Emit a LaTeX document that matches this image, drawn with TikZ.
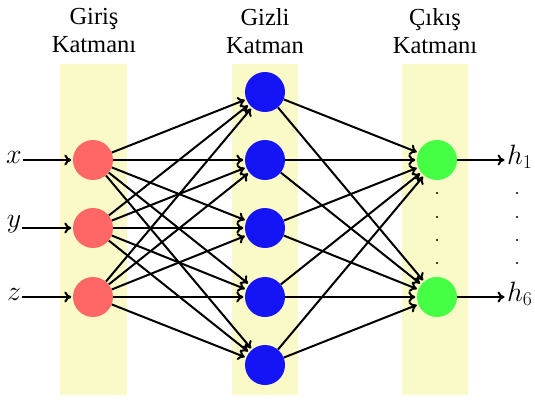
\RequirePackage{fix-cm}
\documentclass[tikz,border=0pt]{standalone}
\usepackage{fontspec}
\setmainfont{Liberation Serif}
\usetikzlibrary{arrows.meta}
\definecolor{bandcol}{HTML}{FAFAC8}
\definecolor{incol}{HTML}{FF6666}
\definecolor{hidcol}{HTML}{1414F5}
\definecolor{outcol}{HTML}{44FF44}
\begin{document}
\begin{tikzpicture}[x=1pt,y=-1pt,
  band/.style={fill=bandcol},
  neuron/.style={circle,minimum size=40pt,inner sep=0pt},
  conn/.style={-{To[length=7pt,width=11pt]},line width=2pt,black,shorten >=1.5pt},
  head/.style={align=center,font=\fontsize{24.5}{28}\selectfont},
  lbl/.style={font=\fontsize{28}{28}\selectfont,inner sep=1pt}]
\useasboundingbox (0,0) rectangle (535,401);
% layer bands
\fill[band] (60,64) rectangle (127,395);
\fill[band] (232,64) rectangle (298,395);
\fill[band] (402,64) rectangle (468,395);
% headings
\node[head] (hin) at (94,31) {Giriş\\Katmanı};
\node[head] (hhid) at (265,31) {Gizli\\Katman};
\node[head] (hout) at (435,31) {Çıkış\\Katmanı};
% input layer
\foreach \i/\y in {1/160,2/228,3/297}
  \node[neuron,fill=incol] (i\i) at (93,\y) {};
% hidden layer
\foreach \j/\y in {1/92,2/160,3/228,4/297,5/365}
  \node[neuron,fill=hidcol] (h\j) at (265,\y) {};
% output layer
\node[neuron,fill=outcol] (o1) at (437,160) {};
\node[neuron,fill=outcol] (o2) at (437,297) {};
% inputs and outputs
\node[lbl] (lx) at (14,157) {$x$};
\node[lbl] (ly) at (14,224) {$y$};
\node[lbl] (lz) at (14,294) {$z$};
\node[lbl,anchor=west] (l1) at (506,157) {$h_1$};
\node[lbl,anchor=west] (l6) at (506,294) {$h_6$};
\draw[conn] (lx.east |- i1) -- (i1);
\draw[conn] (ly.east |- i2) -- (i2);
\draw[conn] (lz.east |- i3) -- (i3);
\draw[conn] (o1) -- (l1.west |- o1);
\draw[conn] (o2) -- (l6.west |- o2);
% connections
\foreach \i in {1,2,3}
  \foreach \j in {1,...,5}
    \draw[conn] (i\i) -- (h\j);
\foreach \j in {1,...,5}
  \foreach \k in {1,2}
    \draw[conn] (h\j) -- (o\k);
% ellipsis dots
\foreach \y in {193,217,240,263} {
  \fill (437,\y) circle (1.2pt);
  \fill (517,\y) circle (1.2pt);
}
\end{tikzpicture}
\end{document}
